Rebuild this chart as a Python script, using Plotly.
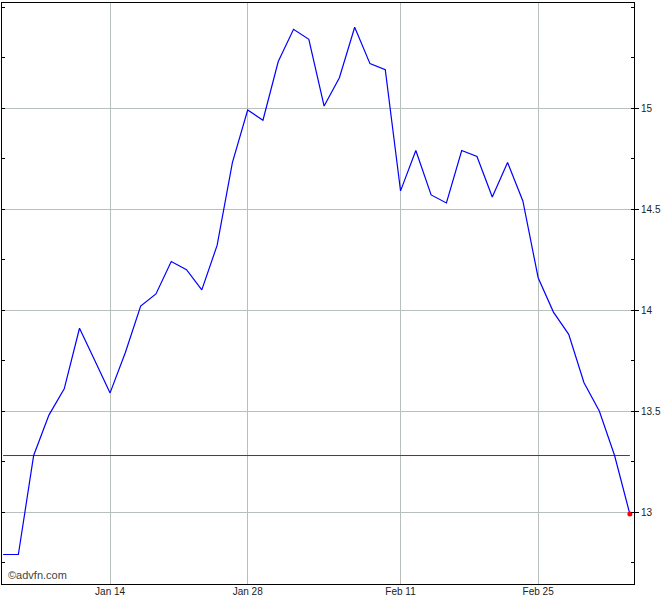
import plotly.graph_objects as go

dates = ["2019-01-03", "2019-01-04", "2019-01-07", "2019-01-08", "2019-01-09", "2019-01-10",
         "2019-01-11", "2019-01-14", "2019-01-15", "2019-01-16", "2019-01-17", "2019-01-18",
         "2019-01-22", "2019-01-23", "2019-01-24", "2019-01-25", "2019-01-28", "2019-01-29",
         "2019-01-30", "2019-01-31", "2019-02-01", "2019-02-04", "2019-02-05", "2019-02-06",
         "2019-02-07", "2019-02-08", "2019-02-11", "2019-02-12", "2019-02-13", "2019-02-14",
         "2019-02-15", "2019-02-19", "2019-02-20", "2019-02-21", "2019-02-22", "2019-02-25",
         "2019-02-26", "2019-02-27", "2019-02-28", "2019-03-01", "2019-03-04", "2019-03-05"]
prices = [12.79, 12.79, 13.28, 13.48, 13.61, 13.91, 13.75, 13.59, 13.79, 14.02, 14.08, 14.24,
          14.20, 14.10, 14.32, 14.73, 14.99, 14.94, 15.23, 15.39, 15.34, 15.01, 15.15, 15.40,
          15.22, 15.19, 14.59, 14.79, 14.57, 14.53, 14.79, 14.76, 14.56, 14.73, 14.54, 14.16,
          13.99, 13.88, 13.64, 13.50, 13.28, 12.99]
ref_level = 13.28
tick_dates = ["2019-01-14", "2019-01-28", "2019-02-11", "2019-02-25"]
tick_labels = ["Jan 14", "Jan 28", "Feb 11", "Feb 25"]
y_ticks = [13, 13.5, 14, 14.5, 15]
y_labels = ["13", "13.5", "14", "14.5", "15"]

fig = go.Figure()
fig.add_trace(go.Scatter(x=dates, y=[ref_level] * len(dates), mode="lines",
                         line=dict(color="#dd0000", width=1), hoverinfo="skip"))
fig.add_trace(go.Scatter(x=dates, y=prices, mode="lines",
                         line=dict(color="#0000ff", width=1.2)))
fig.add_trace(go.Scatter(x=[dates[-1]], y=[prices[-1]], mode="markers",
                         marker=dict(color="#ff0000", size=5)))

grid = "#b8c0bc"
fig.update_layout(
    width=670, height=600,
    margin=dict(l=2, r=36, t=3, b=16, autoexpand=False),
    paper_bgcolor="white", plot_bgcolor="white",
    showlegend=False,
    font=dict(family="Liberation Sans, Arial, sans-serif", size=11, color="#222"),
    xaxis=dict(type="category", range=[-0.07, 41.27],
               tickmode="array", tickvals=tick_dates, ticktext=tick_labels,
               showgrid=True, gridcolor=grid, gridwidth=1,
               showline=True, linecolor="black", linewidth=1, mirror=True,
               ticks="", ticklabelstandoff=-2,
               tickfont=dict(size=10, color="#222"), zeroline=False),
    yaxis=dict(side="right", range=[12.644, 15.52],
               tickmode="array", tickvals=y_ticks, ticktext=y_labels,
               showgrid=True, gridcolor=grid, gridwidth=1,
               showline=True, linecolor="black", linewidth=1, mirror=True,
               ticks="outside", ticklen=4, tickcolor="black",
               tickfont=dict(size=10, color="#222"), zeroline=False,
               minor=dict(dtick=0.25, tick0=12.75, ticks="inside", ticklen=3,
                          tickcolor="black", showgrid=False)),
    yaxis2=dict(overlaying="y", side="left", range=[12.644, 15.52],
                dtick=0.25, tick0=13, ticks="inside", ticklen=3, tickcolor="black",
                showticklabels=False, showgrid=False, showline=False, zeroline=False),
)
fig.add_trace(go.Scatter(x=[dates[0]], y=[ref_level], yaxis="y2", mode="markers",
                         marker=dict(opacity=0), hoverinfo="skip"))
fig.add_annotation(text="©advfn.com", xref="paper", yref="paper", x=0, y=0,
                   xanchor="left", yanchor="bottom", xshift=4, yshift=1, showarrow=False,
                   font=dict(size=11, color="#444"))

fig.write_html("out.html", config={"displayModeBar": False},
               post_script="document.body.style.margin='0';document.body.style.overflow='hidden';")
